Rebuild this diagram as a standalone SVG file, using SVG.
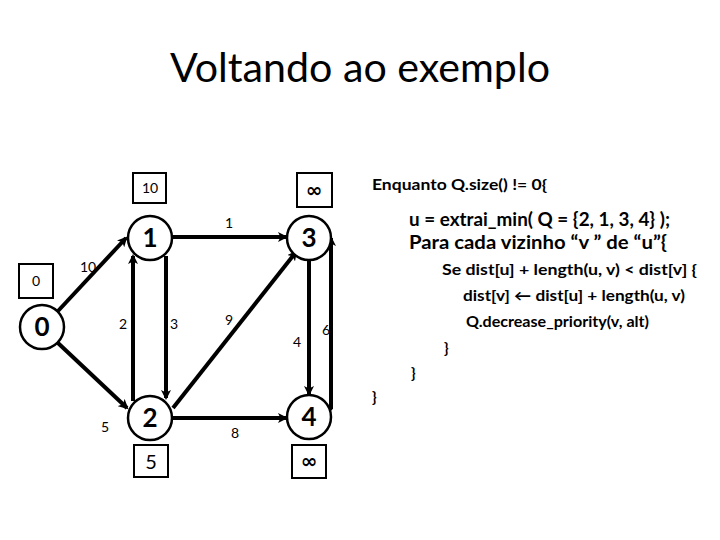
<svg xmlns="http://www.w3.org/2000/svg" width="720" height="540" viewBox="0 0 720 540">
<defs>
<marker id="ah" markerWidth="10" markerHeight="10" refX="8" refY="5" orient="auto" markerUnits="userSpaceOnUse" viewBox="0 0 10 10">
<path d="M0,0 L10,5 L0,10 L2.5,5 Z" fill="#000"/>
</marker>
<style>
text{font-family:Lato,"Liberation Sans",sans-serif;fill:#000}
.node circle{fill:#fff;stroke:#000;stroke-width:2.5}
.node text{font-weight:bold;font-size:26px;text-anchor:middle}
.box rect{fill:#fff;stroke:#000;stroke-width:2}
.box text{font-size:14px;text-anchor:middle}
.box .big{font-size:20px}
.box .inf{font-family:"DejaVu Sans",sans-serif;font-size:20px;font-weight:bold}
.edge{stroke:#000;stroke-width:4;fill:none;marker-end:url(#ah)}
.lbl{font-size:14px;text-anchor:middle}
.code{font-weight:bold}
</style>
</defs>
<rect width="720" height="540" fill="#fff"/>
<text x="360" y="82" font-size="40" text-anchor="middle" textLength="380" lengthAdjust="spacingAndGlyphs">Voltando ao exemplo</text>

<g id="connectors">
<line class="edge" x1="58" y1="311" x2="126" y2="238"/>
<line class="edge" x1="58" y1="343" x2="127" y2="408"/>
<line class="edge" x1="172" y1="237" x2="286" y2="237"/>
<line class="edge" x1="166" y1="256" x2="166" y2="398"/>
<line class="edge" x1="133" y1="401" x2="133" y2="256"/>
<line class="edge" x1="173" y1="408" x2="296" y2="252"/>
<line class="edge" x1="172" y1="418" x2="286" y2="418"/>
<line class="edge" x1="309" y1="259" x2="309" y2="394"/>
<path class="edge" d="M329,410 L331,408 L331,238"/>
<text class="lbl" x="88" y="272">10</text>
<text class="lbl" x="123" y="329">2</text>
<text class="lbl" x="174" y="329">3</text>
<text class="lbl" x="229" y="325">9</text>
<text class="lbl" x="229" y="228">1</text>
<text class="lbl" x="297" y="347">4</text>
<text class="lbl" x="326" y="335">6</text>
<text class="lbl" x="105" y="432">5</text>
<text class="lbl" x="235" y="438">8</text>
</g>

<g id="node0" class="node"><circle cx="42" cy="327" r="22"/><text x="42" y="336">0</text></g>
<g id="node1" class="node"><circle cx="150" cy="238" r="22"/><text x="150" y="247">1</text></g>
<g id="node2" class="node"><circle cx="150" cy="418" r="22"/><text x="150" y="427">2</text></g>
<g id="node3" class="node"><circle cx="309" cy="238" r="22"/><text x="309" y="247">3</text></g>
<g id="node4" class="node"><circle cx="309" cy="417" r="22"/><text x="309" y="426">4</text></g>

<g id="dist0" class="box"><rect x="19" y="264" width="34" height="34"/><text x="36" y="286">0</text></g>
<g id="dist1" class="box"><rect x="133" y="173" width="33" height="30"/><text x="150" y="193">10</text></g>
<g id="dist2" class="box"><rect x="134" y="445" width="34" height="32"/><text class="big" x="151" y="469">5</text></g>
<g id="dist3" class="box"><rect x="297" y="173" width="35" height="34"/><text class="inf" x="314" y="197">∞</text></g>
<g id="dist4" class="box"><rect x="292" y="445" width="34" height="33"/><text class="inf" x="309" y="468">∞</text></g>

<g id="code" class="code">
<text x="372" y="190" font-size="15" textLength="175" lengthAdjust="spacingAndGlyphs">Enquanto Q.size() != 0{</text>
<text x="409" y="226" font-size="18" textLength="261" lengthAdjust="spacingAndGlyphs">u = extrai_min( Q = {2, 1, 3, 4} );</text>
<text x="409" y="249" font-size="18" textLength="258" lengthAdjust="spacingAndGlyphs">Para cada vizinho “v ” de “u”{</text>
<text x="442" y="275" font-size="15" textLength="255" lengthAdjust="spacingAndGlyphs">Se  dist[u] + length(u, v) &lt; dist[v] {</text>
<text x="463" y="301" font-size="15" textLength="222" lengthAdjust="spacingAndGlyphs">dist[v] ← dist[u] + length(u, v)</text>
<text x="466" y="327" font-size="15" textLength="183" lengthAdjust="spacingAndGlyphs">Q.decrease_priority(v, alt)</text>
<text x="444" y="353" font-size="15">}</text>
<text x="411" y="378" font-size="15">}</text>
<text x="372" y="402" font-size="15">}</text>
</g>
</svg>
